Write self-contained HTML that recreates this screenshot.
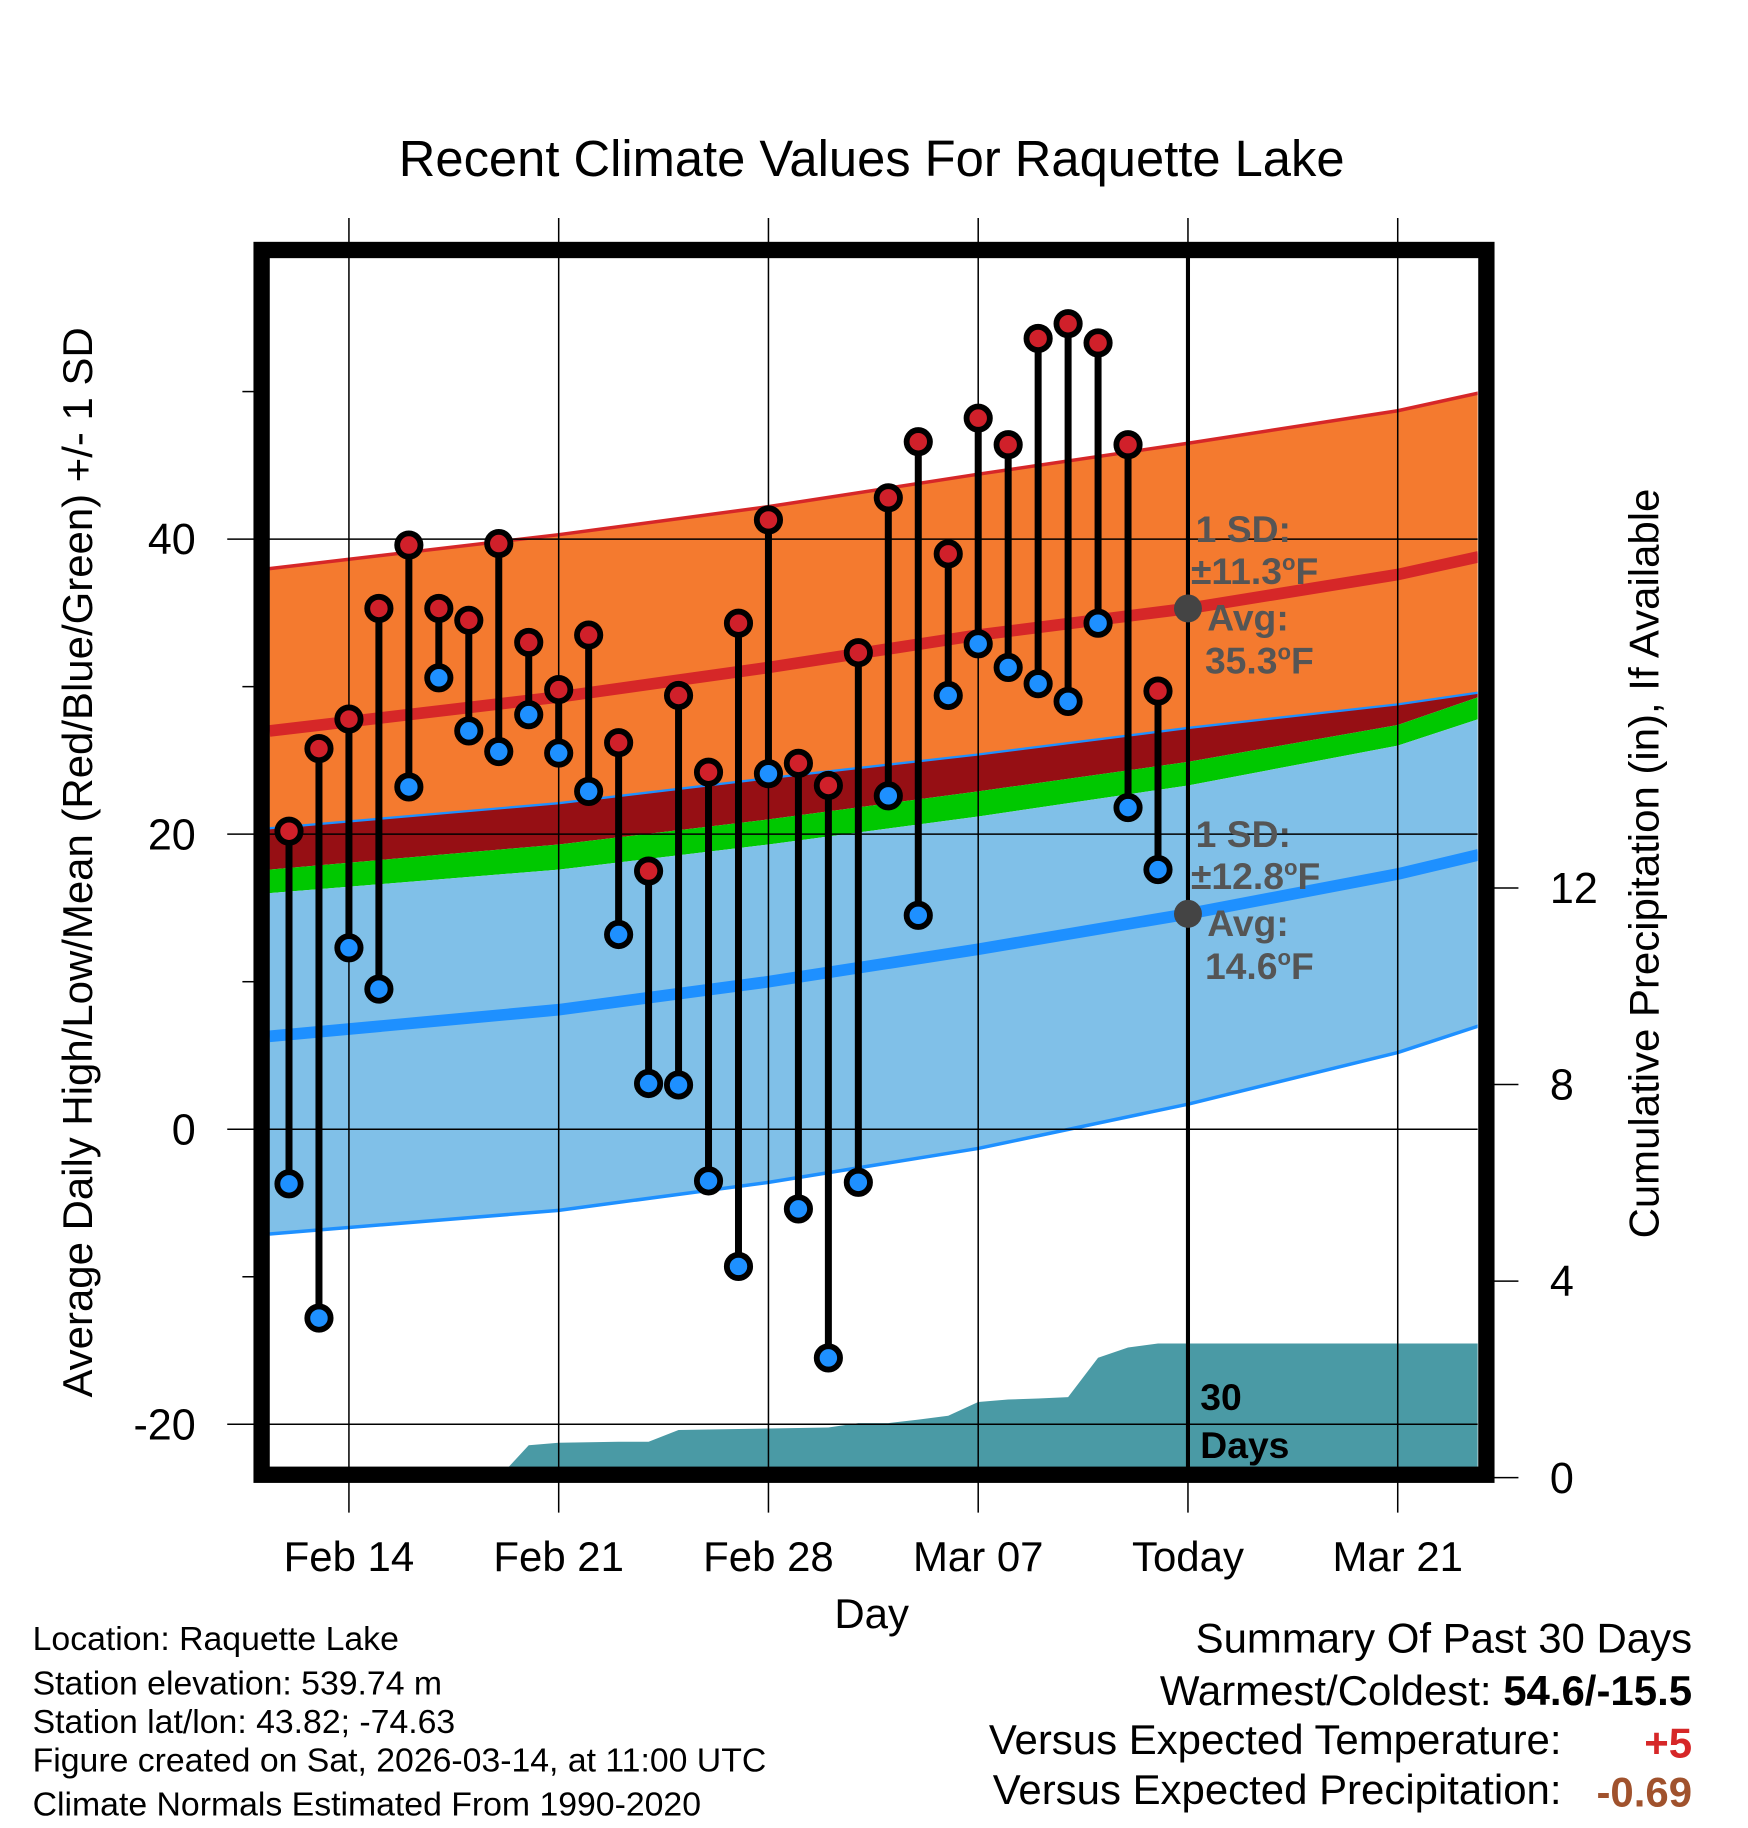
<!DOCTYPE html>
<html><head><meta charset="utf-8"><style>html,body{margin:0;padding:0;background:#fff}svg{display:block}text{font-family:"Liberation Sans",Arial,sans-serif}</style></head>
<body>
<svg id="chart" width="1748" height="1828" viewBox="0 0 1500 1568.6" xmlns="http://www.w3.org/2000/svg">
<rect width="1500" height="1568.6" fill="#fff"/>
<defs><clipPath id="plotclip"><rect x="231" y="221" width="1037" height="1038"/></clipPath></defs>
<text x="748" y="151" font-size="43.5" text-anchor="middle">Recent Climate Values For Raquette Lake</text>
<g id="bands" clip-path="url(#plotclip)"></g>
<g id="grid"></g>
<g id="marks"></g>
<text transform="translate(79,740) rotate(-90)" font-size="36" text-anchor="middle">Average Daily High/Low/Mean (Red/Blue/Green) +/- 1 SD</text>
<text transform="translate(1423,741) rotate(-90)" font-size="36" text-anchor="middle">Cumulative Precipitation (in), If Available</text>
<text x="748" y="1397" font-size="36" text-anchor="middle">Day</text>
<g font-size="29">
<text x="28" y="1416">Location: Raquette Lake</text>
<text x="28" y="1454">Station elevation: 539.74 m</text>
<text x="28" y="1487">Station lat/lon: 43.82; -74.63</text>
<text x="28" y="1520">Figure created on Sat, 2026-03-14, at 11:00 UTC</text>
<text x="28" y="1558">Climate Normals Estimated From 1990-2020</text>
</g>
<g font-size="36">
<text x="1452" y="1418" text-anchor="end">Summary Of Past 30 Days</text>
<text x="1452" y="1463" text-anchor="end">Warmest/Coldest: <tspan font-weight="bold">54.6/-15.5</tspan></text>
<text x="1340" y="1505" text-anchor="end">Versus Expected Temperature:</text>
<text x="1452" y="1508" text-anchor="end" font-weight="bold" fill="#d62728">+5</text>
<text x="1340" y="1548" text-anchor="end">Versus Expected Precipitation:</text>
<text x="1452" y="1550" text-anchor="end" font-weight="bold" fill="#a0522d">-0.69</text>
</g>
<script>
const highs=[20.2,25.8,27.8,35.3,39.6,35.3,34.5,39.7,33.0,29.8,33.5,26.2,17.5,29.4,24.2,34.3,41.3,24.8,23.3,32.3,42.8,46.6,39.0,48.2,46.4,53.6,54.6,53.3,46.4,29.7];
const lows=[-3.7,-12.8,12.3,9.5,23.2,30.6,27.0,25.6,28.1,25.5,22.9,13.2,3.1,3.0,-3.5,-9.3,24.1,-5.4,-15.5,-3.6,22.6,14.5,29.4,32.9,31.3,30.2,29.0,34.3,21.8,17.6];
const precip=[0,0,0,0,0,0,0,0,0.66,0.71,0.72,0.73,0.73,0.97,0.98,0.99,1.0,1.01,1.02,1.11,1.11,1.18,1.26,1.54,1.59,1.61,1.64,2.44,2.65,2.73];
const knotDays=[-0.65,9,16,23,30,37,39.7];
const highUpper=[38.0,40.3,42.2,44.4,46.5,48.7,49.9];
const blueUpper=[20.4,22.1,23.8,25.4,27.2,28.8,29.6];
const greenTop=[17.6,19.3,21.0,22.9,24.9,27.4,29.3];
const greenBot=[16.0,17.6,19.3,21.2,23.3,26.0,27.8];
const lowLower=[-7.1,-5.5,-3.6,-1.3,1.7,5.2,7.0];
const normHigh=[27.0,29.3,31.3,33.5,35.3,37.6,38.8];
const normLow=[6.3,8.1,10.0,12.2,14.6,17.3,18.6];
const xTickDays=[2,9,16,23,30,37];
const xTickLabels=['Feb 14','Feb 21','Feb 28','Mar 07','Today','Mar 21'];
const yTicks=[-20,0,20,40];
const y2Ticks=[0,4,8,12];
const todayDay=30;

const NS='http://www.w3.org/2000/svg';
const X=d=>248+25.714*d;
const Y=v=>969-12.66*v;
const YP=p=>1268-42.17*p;
function mk(tag,attrs,parent){const e=document.createElementNS(NS,tag);for(const k in attrs)e.setAttribute(k,attrs[k]);parent.appendChild(e);return e;}
const bands=document.getElementById('bands'),grid=document.getElementById('grid'),marks=document.getElementById('marks');
function pts(arr){return knotDays.map((d,i)=>X(d)+','+Y(arr[i]));}
function band(top,bot,fill,name){
  const p=pts(top).concat(pts(bot).reverse()).join(' ');
  const e=mk('polygon',{points:p,fill:fill},bands);
  
  
}
band(highUpper,blueUpper,'#f47a2f','high-sd-band');
band(blueUpper,greenTop,'#960f14','overlap-band');
band(greenTop,greenBot,'#00c800','mean-band');
band(greenBot,lowLower,'#80c0e8','low-sd-band');
let e=mk('polyline',{points:pts(highUpper).join(' '),fill:'none',stroke:'#d62728','stroke-width':3},bands);

e=mk('polyline',{points:pts(blueUpper).join(' '),fill:'none',stroke:'#1e90ff','stroke-width':2},bands);

e=mk('polyline',{points:pts(lowLower).join(' '),fill:'none',stroke:'#1e90ff','stroke-width':3},bands);

let pp=[X(-0.65)+','+YP(0)];
precip.forEach((v,i)=>{pp.push(X(i)+','+YP(v));});
pp.push(X(39.7)+','+YP(precip[precip.length-1]));pp.push(X(39.7)+','+YP(0));
e=mk('polygon',{points:pp.join(' '),fill:'#4a9aa5'},bands);

e=mk('polyline',{points:pts(normHigh).join(' '),fill:'none',stroke:'#d62728','stroke-width':10},bands);

e=mk('polyline',{points:pts(normLow).join(' '),fill:'none',stroke:'#1e90ff','stroke-width':10},bands);

xTickDays.forEach((d,i)=>{
  const l=mk('line',{x1:X(d),x2:X(d),y1:187,y2:1298,stroke:'#000','stroke-width':1.3},grid);
  
  const t=mk('text',{x:X(d),y:1348,'font-size':36,'text-anchor':'middle'},grid);
  t.textContent=xTickLabels[i];
  
});
yTicks.forEach(v=>{
  const l=mk('line',{x1:195,x2:1268,y1:Y(v),y2:Y(v),stroke:'#000','stroke-width':1.3},grid);
  
  const t=mk('text',{x:168,y:Y(v)+13,'font-size':37,'text-anchor':'end'},grid);
  t.textContent=v;
  
});
[-10,10,30,50].forEach(v=>{
  const l=mk('line',{x1:208,x2:220,y1:Y(v),y2:Y(v),stroke:'#000','stroke-width':1.3},grid);
  
});
y2Ticks.forEach(v=>{
  const l=mk('line',{x1:1280,x2:1303,y1:YP(v),y2:YP(v),stroke:'#000','stroke-width':1.3},grid);
  
  const t=mk('text',{x:1330,y:YP(v)+13,'font-size':37},grid);
  t.textContent=v;
  
});
e=mk('line',{x1:X(todayDay),x2:X(todayDay),y1:221,y2:1259,stroke:'#000','stroke-width':3.5},marks);

highs.forEach((h,i)=>{
  const s=mk('line',{x1:X(i),x2:X(i),y1:Y(h),y2:Y(lows[i]),stroke:'#000','stroke-width':6},marks);
  
});
highs.forEach((h,i)=>{
  const c1=mk('circle',{cx:X(i),cy:Y(h),r:10,fill:'#d0202a',stroke:'#000','stroke-width':5},marks);
  
  const c2=mk('circle',{cx:X(i),cy:Y(lows[i]),r:10,fill:'#1e90ff',stroke:'#000','stroke-width':5},marks);
  
});
const nh=normHigh[4],nl=normLow[4];
e=mk('circle',{cx:X(todayDay),cy:Y(nh),r:12,fill:'#444'},marks);

e=mk('circle',{cx:X(todayDay),cy:Y(nl),r:12,fill:'#444'},marks);

function degText(g,x,y,s){
  const t=mk('text',{x:x,y:y},g);
  t.appendChild(document.createTextNode(s));
  const o=mk('tspan',{'font-size':19,dy:-12},t);o.textContent='o';
  const f=mk('tspan',{dy:12},t);f.textContent='F';
}
function ann(sd,avg,y0,name){
  const g=mk('g',{'font-size':32,'font-weight':'bold',fill:'#555'},marks);
  
  let t=mk('text',{x:1026,y:y0},g);t.textContent='1 SD:';
  degText(g,1022,y0+36,sd);
  t=mk('text',{x:1036,y:y0+76},g);t.textContent='Avg:';
  degText(g,1034,y0+113,avg);
}
ann('±11.3','35.3',465,'high-normal-annotation');
ann('±12.8','14.6',727,'low-normal-annotation');
const g30=mk('g',{'font-size':32,'font-weight':'bold',fill:'#000'},marks);

let t=mk('text',{x:1030,y:1210},g30);t.textContent='30';
t=mk('text',{x:1030,y:1251},g30);t.textContent='Days';
e=mk('rect',{x:224.5,y:214.5,width:1051,height:1051,fill:'none',stroke:'#000','stroke-width':14},marks);

</script>
</svg>
</body></html>
